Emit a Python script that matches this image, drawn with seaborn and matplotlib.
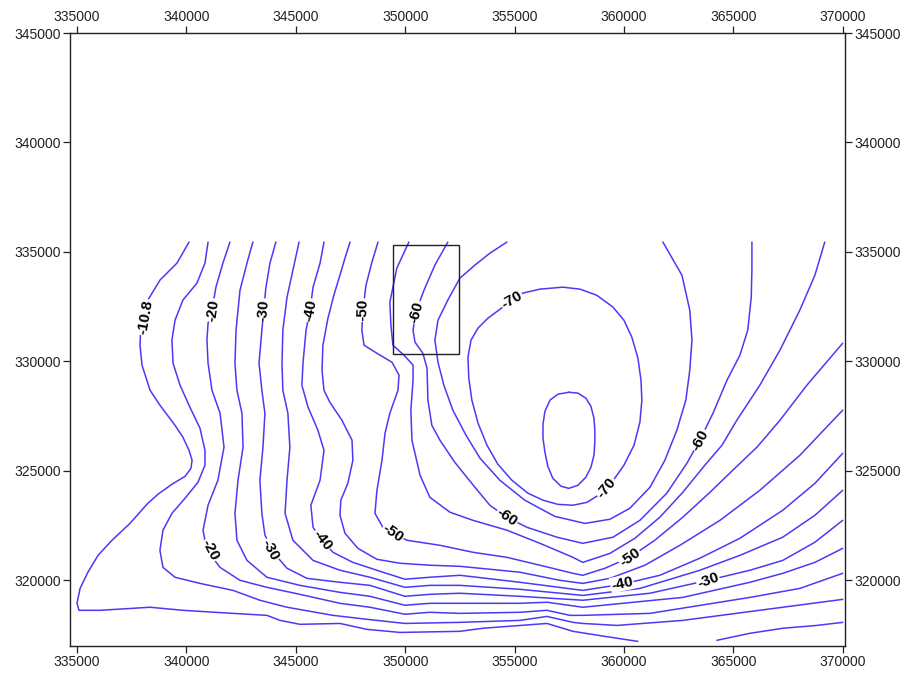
import pandas as pd
import matplotlib
matplotlib.use("Agg")
import matplotlib.pyplot as plt
import matplotlib.patches as mpatches
from matplotlib.ticker import FuncFormatter
import seaborn as sns

# contour traces (easting, northing) in metres, one list per isoline
c10_8_a = [(340120, 335450), (339570, 334490), (338790, 333710), (338240, 332800), (337920, 331650),
           (337880, 330740), (337970, 329830), (338340, 328680), (338790, 328000), (339480, 327080),
           (339840, 326540), (340120, 325940), (340260, 325480), (340210, 325120), (339940, 324750),
           (339340, 324390), (338700, 323930), (338240, 323520),
           (337420, 322600), (336600, 321830), (335960, 321140), (335500, 320370), (335140, 319630),
           (335000, 318950), (335090, 318630), (336050, 318630), (338340, 318770), (339840, 318630),
           (342130, 318490), (343680, 318400), (344280, 318170), (345190, 317990), (347020, 318030),
           (348250, 317760), (349760, 317620), (352500, 317670), (353550, 317810), (356480, 318030),
           (357670, 317670), (359130, 317440), (360640, 317210)]
c10_8_b = [(364250, 317260), (365760, 317580), (367260, 317810), (368820, 317940), (370000, 318080)]
c15 = [(340990, 335450), (340850, 334490), (340480, 333570), (339840, 332800), (339480, 331880),
       (339340, 330970), (339390, 329920), (339710, 328910), (340160, 327910), (340620, 326950),
       (340850, 325940), (340850, 325260), (340530, 324480), (339940, 323750), (339340, 323060),
       (338930, 322290), (338790, 321370), (338930, 320590), (339480, 320140), (340620, 319860),
       (342130, 319540), (343360, 319090), (344600, 318770), (346700, 318400), (348250, 318220),
       (349990, 318030), (352500, 318080), (355250, 318170), (356480, 318350), (357670, 318080),
       (358120, 318030), (359680, 317940), (362690, 318170), (367260, 318770), (370000, 319130)]
c20 = [(341990, 335450), (341670, 334490), (341350, 333390), (341170, 332340), (340990, 331740),
       (340940, 330970), (340990, 329920), (341170, 328680), (341540, 327630), (341720, 326080),
       (341440, 324570), (340990, 323430), (340760, 322290), (340940, 321370), (341540, 320590),
       (342450, 320000), (343680, 319680), (345190, 319360), (347020, 318950), (348390, 318770),
       (349990, 318450), (351130, 318540), (352500, 318490), (355250, 318540), (356480, 318630),
       (357530, 318400), (358120, 318400), (361190, 318490), (365760, 319220), (368040, 319630),
       (370000, 320320)]
c25 = [(343040, 335450), (342770, 334490), (342450, 333250), (342270, 331430), (342220, 329920),
       (342310, 328680), (342540, 327630), (342590, 326080), (342360, 324570), (342220, 323060),
       (342310, 321830), (342770, 320910), (343680, 320140), (345190, 319770), (347020, 319450),
       (348390, 319270), (349990, 318860), (351130, 318950), (352500, 318950), (355250, 318950),
       (356480, 319000), (358120, 318770), (362690, 319220), (365760, 319910), (367260, 320320),
       (368730, 320820), (370000, 321460)]
c30 = [(344090, 335450), (343820, 334490), (343630, 333340), (343450, 331430), (343320, 329920),
       (343450, 328680), (343590, 327630), (343500, 326080), (343360, 324570), (343450, 323060),
       (343590, 322060), (344090, 321140), (344600, 320550), (345510, 320090), (347020, 319910),
       (348390, 319770), (349990, 319270), (351130, 319360), (352500, 319410), (355250, 319270),
       (358120, 319090), (361190, 319410), (363840, 320000), (365760, 320460), (367260, 320910),
       (368730, 321740), (370000, 322740)]
c35 = [(345150, 335450), (344870, 334170), (344600, 332930), (344410, 331430), (344370, 329920),
       (344410, 328680), (344640, 327630), (344730, 326080), (344600, 324570), (344510, 323060),
       (344870, 321830), (345790, 320910), (347020, 320460), (348390, 320140), (349990, 319680),
       (351130, 319770), (352500, 319770), (355250, 319590), (358120, 319310), (360730, 319630),
       (363470, 320460), (365300, 321140), (367260, 321970), (368730, 322970), (370000, 324110)]
c40 = [(346290, 335450), (346110, 334490), (345790, 333390), (345650, 332340), (345470, 331430),
       (345330, 329920), (345280, 328910), (345560, 327910), (346010, 326860), (346290, 325940),
       (346110, 324570), (345690, 323430), (345790, 322420), (346200, 321830), (346700, 321280),
       (347610, 320820), (348980, 320370), (349990, 320050), (351130, 320140), (352500, 320230),
       (355250, 319910), (358120, 319540), (359910, 319820), (361640, 320230), (363470, 321010),
       (365300, 321920), (367260, 323200), (368730, 324430), (370000, 325800)]
c45 = [(347480, 335450), (347250, 334720), (347020, 333940), (346740, 333020), (346470, 331970),
       (346240, 330740), (346200, 329600), (346290, 328680), (346560, 328130), (347110, 327310),
       (347570, 326400), (347610, 325480), (347380, 324430), (347060, 323660), (347020, 322970),
       (347250, 322150), (347840, 321460), (348710, 320960), (349760, 320780), (351130, 320690),
       (352500, 320640), (355250, 320370), (357070, 320000), (358120, 319860), (359360, 320090),
       (360960, 320690), (362560, 321600), (364390, 322740), (366210, 324110), (368040, 325710),
       (370000, 327770)]
c50 = [(348760, 335450), (348480, 334530), (348210, 333480), (348070, 332340), (348020, 331430),
       (348120, 330740), (348710, 330370), (349400, 329960), (349720, 329370), (349670, 328680),
       (349300, 327630), (349080, 326720), (348940, 325480), (348710, 324110), (348620, 323060),
       (348980, 322420), (349440, 322150), (350080, 321830), (351590, 321600), (353100, 321280),
       (354650, 321050), (356160, 320690), (357670, 320320), (358120, 320230), (359130, 320550),
       (360270, 321050), (361410, 321830), (362690, 322880), (363930, 324020), (365070, 325120),
       (366080, 326080), (367130, 327310), (368360, 328910), (370000, 330830)]
c55 = [(350170, 335450), (349620, 334260), (349300, 332700), (349350, 331650), (349440, 330740),
       (349990, 330240), (350360, 329830), (350360, 329140), (350260, 327770), (350310, 326400),
       (350680, 324800), (351130, 323790), (352050, 323110), (353100, 322740), (354650, 322290),
       (356160, 321690), (357670, 321050), (358120, 320820), (359360, 321230), (360500, 321920),
       (361640, 322880), (362690, 324020), (363700, 325260), (364480, 326170), (365160, 327310),
       (366210, 328910), (367130, 330510), (368040, 332340), (368730, 333940), (369180, 335450)]
c60 = [(351950, 335450), (351360, 334400), (350860, 333250), (350490, 332250), (350360, 331430),
       (350450, 330880), (350810, 330370), (351000, 329690), (351040, 328230), (351220, 327080),
       (351590, 326400), (352270, 325390), (353190, 324250), (353870, 323430), (354650, 322880),
       (355570, 322420), (356940, 321970), (358120, 321690), (359500, 321970), (360730, 322740),
       (361960, 323980), (362880, 325350), (363470, 326400), (364070, 327630), (364710, 329140),
       (365300, 330280), (365660, 331430), (365820, 332930), (365850, 334200), (365850, 335450)]
c65 = [(354650, 335450), (353870, 334940), (353190, 334400), (352500, 333800), (351950, 332800),
       (351500, 331880), (351360, 330970), (351500, 329960), (351770, 328910), (352180, 327770),
       (352780, 326630), (353420, 325580), (354330, 324570), (355470, 323660), (356840, 322920),
       (358220, 322600), (359360, 322790), (360270, 323290), (361190, 324250), (361870, 325480),
       (362420, 326860), (362830, 328230), (363010, 329600), (363110, 330970), (363010, 332340),
       (362650, 333940), (361780, 335450)]
c70 = [(354880, 332800), (355380, 333120), (356160, 333300), (357210, 333390), (357990, 333300),
       (358760, 333020), (359500, 332480), (360000, 331880), (360360, 331110), (360640, 330150),
       (360780, 329140), (360820, 328230), (360730, 327220), (360460, 326170), (360000, 325260),
       (359450, 324480), (358900, 323930), (358310, 323560), (357670, 323430), (356980, 323470),
       (356300, 323660), (355610, 323980), (354880, 324570), (354240, 325300), (353740, 326170),
       (353330, 327180), (353050, 328230), (352910, 329230), (352870, 330190), (353010, 330970),
       (353330, 331520), (353780, 331970), (354330, 332380), (354880, 332800)]
c75 = [(357480, 328590), (357900, 328550), (358260, 328320), (358490, 327950), (358630, 327400),
       (358670, 326860), (358670, 326310), (358630, 325710), (358490, 325160), (358260, 324710),
       (357900, 324340), (357480, 324200), (357120, 324300), (356750, 324660), (356520, 325210),
       (356390, 325850), (356300, 326490), (356300, 327130), (356390, 327720), (356620, 328230),
       (356980, 328500), (357480, 328590)]

isolines = [c10_8_a, c10_8_b, c15, c20, c25, c30, c35, c40, c45, c50, c55, c60, c65, c70, c75]

# contour labels: text, easting, northing, angle
label_text = ['-10.8', '-20', '-30', '-40', '-50', '-60', '-70', '-70', '-60', '-60',
              '-50', '-50', '-40', '-40', '-30', '-30', '-20']
label_x = [338110, 341220, 343540, 345650, 348070, 350490, 354880, 359220, 354650, 363470,
           349440, 360270, 346200, 359910, 343820, 363840, 341080]
label_y = [332020, 332340, 332340, 332340, 332340, 332250, 332800, 324200, 322880, 326400,
           322150, 321050, 321830, 319860, 321370, 320000, 321370]
label_rot = [80, 82, 85, 80, 88, 75, 30, 50, -35, 62, -35, 35, -52, 12, -62, 20, -62]

# outlined study block
block_x0, block_y0, block_x1, block_y1 = 349450, 330330, 352470, 335310

x_ticks = [335000, 340000, 345000, 350000, 355000, 360000, 365000, 370000]
y_ticks = [320000, 325000, 330000, 335000, 340000, 345000]

rows = []
for i, line in enumerate(isolines):
    for k, (e, n) in enumerate(line):
        rows.append({'line': i, 'order': k, 'x': e, 'y': n})
df = pd.DataFrame(rows)

sns.set_style("ticks")
plt.rcParams['font.family'] = ['Liberation Sans', 'DejaVu Sans']

fig = plt.figure(figsize=(9.04, 6.75), dpi=100)
ax = fig.add_axes([70 / 904, 1 - 646 / 675, 775 / 904, 613 / 675])

line_color = '#4b3af5'
sns.lineplot(data=df, x='x', y='y', units='line', estimator=None, sort=False,
             color=line_color, linewidth=1.1, ax=ax, legend=False,
             solid_joinstyle='round', solid_capstyle='round')

for t, lx, ly, r in zip(label_text, label_x, label_y, label_rot):
    ax.text(lx, ly, t, rotation=r, rotation_mode='anchor', ha='center', va='center',
            fontsize=11, fontweight='bold', color='black', zorder=5,
            bbox=dict(boxstyle='square,pad=0.05', facecolor='white', edgecolor='none'))

ax.add_patch(mpatches.Rectangle((block_x0, block_y0), block_x1 - block_x0, block_y1 - block_y0,
                                fill=False, edgecolor='#222222', linewidth=1.0, zorder=4))

ax.set_xlim(334680, 370105)
ax.set_ylim(317000, 345000)
ax.set_xticks(x_ticks)
ax.set_yticks(y_ticks)
fmt = FuncFormatter(lambda v, p: f"{v:.0f}")
ax.xaxis.set_major_formatter(fmt)
ax.yaxis.set_major_formatter(fmt)
ax.set_xlabel('')
ax.set_ylabel('')
ax.tick_params(direction='out', length=5, width=0.9, color='#222222', labelsize=10,
               labelcolor='#222222', pad=1.5,
               top=True, right=True, labeltop=True, labelright=True)
for s in ax.spines.values():
    s.set_visible(True)
    s.set_color('#222222')
    s.set_linewidth(1.0)

fig.savefig('out.png', dpi=100)
